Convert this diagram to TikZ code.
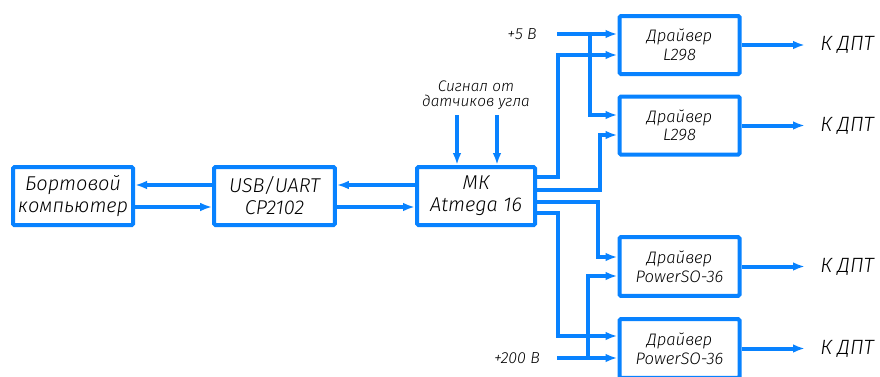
\documentclass[tikz,border=0pt]{standalone}
\usepackage{fontspec}
\IfFontExistsTF{Fira Sans Light Italic}
  {\setmainfont{Fira Sans Light Italic}\newcommand\gostshape{}}
  {\IfFontExistsTF{Fira Sans Light}
     {\setmainfont{Fira Sans Light}\newcommand\gostshape{\itshape}}
     {\setmainfont{Fira Sans}\newcommand\gostshape{\itshape}}}
\usetikzlibrary{arrows.meta}
\definecolor{lineblue}{RGB}{8,130,255}
\begin{document}
\begin{tikzpicture}[x=0.75pt,y=-0.75pt,
  blk/.style={draw=lineblue, line width=3pt, rounded corners=1pt, minimum width=90pt, minimum height=43.5pt, align=center, inner sep=0pt, font=\gostshape\fontsize{12.5}{14}\selectfont},
  bigblk/.style={blk, font=\gostshape\fontsize{15}{16.5}\selectfont},
  conn/.style={draw=lineblue, line width=3pt},
  arr/.style={conn, -{Latex[length=9pt,width=6.5pt]}},
  lbl/.style={inner sep=0pt, align=center},
  outlbl/.style={lbl, anchor=west, font=\gostshape\fontsize{15.5}{17}\selectfont}]
\useasboundingbox (0,0) rectangle (880,376);
\begin{scope}
\clip (0,0) rectangle (880,376);
% blocks
\node[bigblk, minimum width=90pt] (bk) at (73,196) {Бортовой\\компьютер};
\node[bigblk, minimum width=90.5pt] (usb) at (274.5,196) {USB/UART\\CP2102};
\node[bigblk, minimum width=88.5pt] (mk) at (476,196) {МК\\Atmega 16};
\node[blk] (d1) at (679.5,45) {Драйвер\\L298};
\node[blk] (d2) at (679.5,125.5) {Драйвер\\L298};
\node[blk, minimum height=44pt] (p1) at (679.5,266.5) {Драйвер\\PowerSO-36};
\node[blk, minimum height=44pt] (p2) at (679.5,348.5) {Драйвер\\PowerSO-36};
% labels
\node[lbl, font=\gostshape\fontsize{11.5}{11.5}\selectfont] (sig) at (476,95) {Сигнал от\\датчиков угла};
\node[lbl, font=\gostshape\fontsize{12}{12}\selectfont] (v5) at (522,34) {+5 В};
\node[lbl, font=\gostshape\fontsize{12}{12}\selectfont] (v200) at (517,358) {+200 В};
\node[outlbl] (o1) at (820,45) {К ДПТ};
\node[outlbl] (o2) at (820,125.5) {К ДПТ};
\node[outlbl] (o3) at (820,266.5) {К ДПТ};
\node[outlbl] (o4) at (820,348.5) {К ДПТ};
% PC <-> USB <-> MK
\draw[arr] (usb.west |- 0,185) -- (bk.east |- 0,185);
\draw[arr] (bk.east |- 0,207) -- (usb.west |- 0,207);
\draw[arr] (mk.west |- 0,185) -- (usb.east |- 0,185);
\draw[arr] (usb.east |- 0,207) -- (mk.west |- 0,207);
% sensor signals
\draw[arr] (457,115) -- (mk.north -| 457,0);
\draw[arr] (497,115) -- (mk.north -| 497,0);
% +5 V
\draw[arr] (557,34) -- (d1.west |- 0,34);
\draw[arr] (590,34) -- (590,115) -- (d2.west |- 0,115);
% MK to L298
\draw[arr] (mk.east |- 0,177) -- (558,177) -- (558,55) -- (d1.west |- 0,55);
\draw[arr] (mk.east |- 0,190) -- (600,190) -- (600,135) -- (d2.west |- 0,135);
% MK to PowerSO
\draw[arr] (mk.east |- 0,202) -- (598,202) -- (598,257) -- (p1.west |- 0,257);
\draw[arr] (mk.east |- 0,213) -- (558,213) -- (558,336) -- (p2.west |- 0,336);
% +200 V
\draw[arr] (557,358) -- (p2.west |- 0,358);
\draw[arr] (588,358) -- (588,276) -- (p1.west |- 0,276);
% outputs
\draw[arr] (d1.east) -- (d1.east -| 805,0);
\draw[arr] (d2.east) -- (d2.east -| 805,0);
\draw[arr] (p1.east) -- (p1.east -| 805,0);
\draw[arr] (p2.east) -- (p2.east -| 805,0);
\end{scope}
\end{tikzpicture}
\end{document}
